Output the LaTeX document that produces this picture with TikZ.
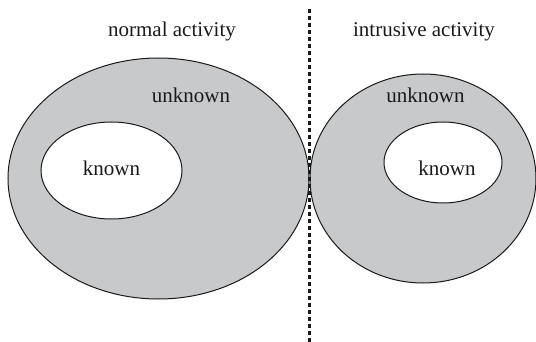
\documentclass[tikz,border=0pt]{standalone}
\usepackage{fontspec}
\setmainfont{Liberation Serif}
\usepackage{tikz}
\usetikzlibrary{
  shapes.geometric,
  positioning
}
\definecolor{adGray}{HTML}{C8C9CB}
\definecolor{adLine}{HTML}{1A1A1A}
\tikzset{
  region/.style={draw=adLine, ellipse, line width=0.5pt, inner sep=0pt},
  unknownzone/.style={region, fill=adGray},
  knownzone/.style={region, fill=white},
  zonetext/.style={font=\fontsize{10.5}{12}\selectfont, inner sep=0pt, anchor=base, text=adLine},
  divider/.style={adLine, line width=1.2pt, dash pattern=on 2.2pt off 1.3pt}
}

\begin{document}
\begin{tikzpicture}[x=0.5pt, y=-0.5pt]
  \clip (0,0) rectangle (536,342);
  % outer regions
  \node[unknownzone, minimum width=150.5pt, minimum height=120.5pt] (normal) at (158.5,178.5) {};
  \node[unknownzone, minimum width=113pt, minimum height=104.5pt] (intrusive) at (423,178.5) {};
  % known parts
  \node[knownzone, minimum width=70.5pt, minimum height=48.5pt] (normalknown) at (111.5,170.5) {};
  \node[knownzone, minimum width=59pt, minimum height=40.5pt] (intrusiveknown) at (443,162.5) {};
  % texts
  \node[zonetext] (normaltitle) at (172,37) {normal activity};
  \node[zonetext] (intrusivetitle) at (424,37) {intrusive activity};
  \node[zonetext] (normalunknown) at (191,102.5) {unknown};
  \node[zonetext] (intrusiveunknown) at (425.5,102.5) {unknown};
  \node[zonetext] at (normalknown |- 0,176) {known};
  \node[zonetext] at (447,176) {known};
  % dividing line
  \coordinate (divtop) at (309.5,9);
  \coordinate (divbot) at (309.5,342);
  \draw[divider] (divtop) -- (divbot);
\end{tikzpicture}
\end{document}
